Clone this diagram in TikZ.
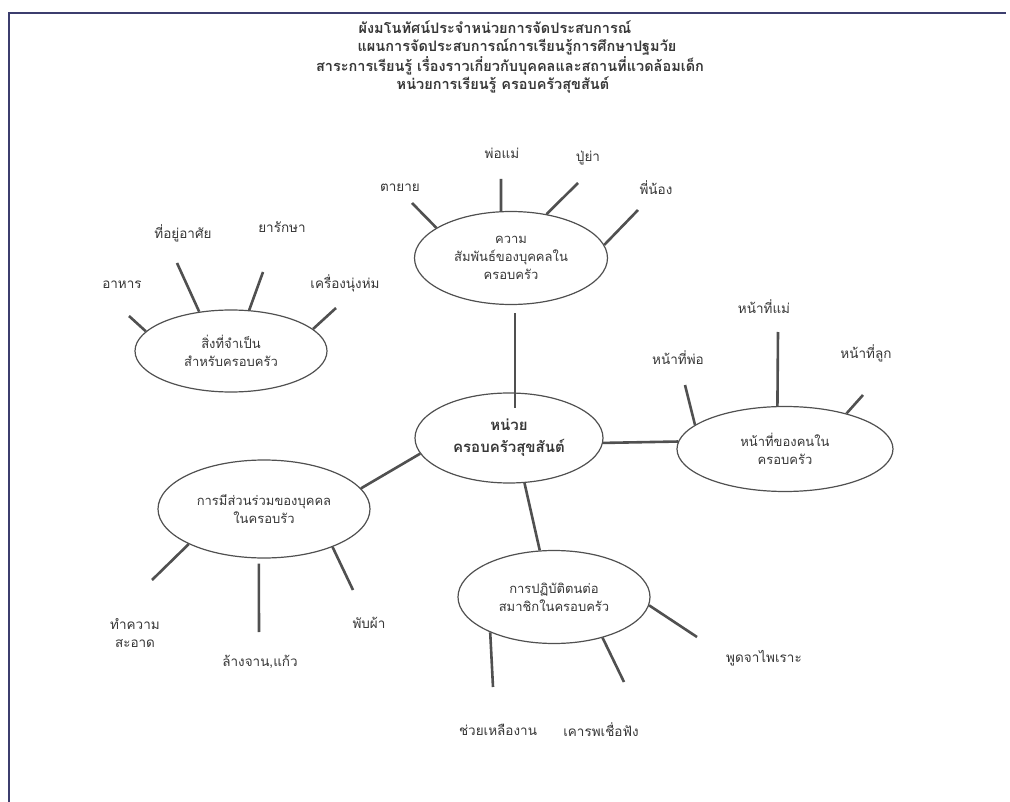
\documentclass[tikz,border=0pt]{standalone}
\usepackage{fontspec}
\newfontfamily\thaifont[Script=Thai]{Loma}
\usetikzlibrary{shapes.geometric}
\definecolor{ink}{RGB}{55,55,55}
\definecolor{linec}{RGB}{80,80,80}
\definecolor{framec}{RGB}{60,62,110}
\begin{document}
\begin{tikzpicture}[x=1pt,y=-1pt,
  font=\thaifont\fontsize{13}{18}\selectfont,
  every node/.style={text=ink},
  bubble/.style={ellipse, draw=linec, line width=1.2pt, inner sep=0pt, align=center},
  spoke/.style={draw=linec, line width=2.6pt},
  link/.style={draw=linec, line width=2.6pt},
  lbl/.style={align=center, inner sep=0pt, font=\thaifont\fontsize{13.5}{18}\selectfont},
  ttl/.style={inner sep=0pt, font=\thaifont\bfseries\fontsize{14.5}{19}\selectfont}]
\useasboundingbox (0,0) rectangle (1010,802);
\fill[white] (0,0) rectangle (1010,802);
\draw[framec, line width=1.5pt] (9,802) -- (9,13) -- (1006,13);

% title
\node[ttl] (t1) at (495,27) {ผังมโนทัศน์ประจำหน่วยการจัดประสบการณ์};
\node[ttl] (t2) at (517,47) {แผนการจัดประสบการณ์การเรียนรู้การศึกษาปฐมวัย};
\node[ttl] (t3) at (510,66) {สาระการเรียนรู้ เรื่องราวเกี่ยวกับบุคคลและสถานที่แวดล้อมเด็ก};
\node[ttl] (t4) at (503,85) {หน่วยการเรียนรู้ ครอบครัวสุขสันต์};

% ellipses
\node[bubble, minimum width=188pt, minimum height=90pt, font=\thaifont\bfseries\fontsize{15}{22}\selectfont] (c) at (509,438) {หน่วย\\ครอบครัวสุขสันต์};
\node[bubble, minimum width=193pt, minimum height=93pt] (rel) at (511,258) {ความ\\สัมพันธ์ของบุคคลใน\\ครอบครัว};
\node[bubble, minimum width=192pt, minimum height=82pt] (need) at (231,351) {สิ่งที่จำเป็น\\สำหรับครอบครัว};
\node[bubble, minimum width=216pt, minimum height=85pt] (duty) at (785,449) {หน้าที่ของคนใน\\ครอบครัว};
\node[bubble, minimum width=212pt, minimum height=98pt] (part) at (264,509) {การมีส่วนร่วมของบุคคล\\ในครอบรัว};
\node[bubble, minimum width=192pt, minimum height=93pt] (prac) at (554,597) {การปฏิบัติตนต่อ\\สมาชิกในครอบครัว};

% links from centre
\draw[link] ([xshift=4pt]rel.south) ++(0,8) -- ([xshift=6pt,yshift=-16pt]c.north);
\draw[link] (c.-3) -- (duty.176);
\draw[link] (c.-71.6) -- (prac.107);
\draw[link] (c.190.5) -- (part.12.3);

% labels
\node[lbl] (l1) at (400,188) {ตายาย};
\node[lbl] (l2) at (502,153) {พ่อแม่};
\node[lbl] (l3) at (588,158) {ปู่ย่า};
\node[lbl] (l4) at (656,188) {พี่น้อง};
\node[lbl] (l5) at (122,285) {อาหาร};
\node[lbl] (l6) at (183,233) {ที่อยู่อาศัย};
\node[lbl] (l7) at (282,227) {ยารักษา};
\node[lbl] (l8) at (345,283) {เครื่องนุ่งห่ม};
\node[lbl] (l9) at (678,358) {หน้าที่พ่อ};
\node[lbl] (l10) at (764,307) {หน้าที่แม่};
\node[lbl] (l11) at (866,353) {หน้าที่ลูก};
\node[lbl] (l12) at (135,633) {ทำความ\\สะอาด};
\node[lbl] (l13) at (260,662) {ล้างจาน,แก้ว};
\node[lbl] (l14) at (369,623) {พับผ้า};
\node[lbl] (l15) at (498,730) {ช่วยเหลืองาน};
\node[lbl] (l16) at (601,730) {เคารพเชื่อฟัง};
\node[lbl] (l17) at (764,658) {พูดจาไพเราะ};

% spoke ends
\coordinate (s1) at (412,203);
\coordinate (s2) at (501,179);
\coordinate (s3) at (578,183);
\coordinate (s4) at (638,210);
\coordinate (s5) at (129,316);
\coordinate (s6) at (177,263);
\coordinate (s7) at (263,272);
\coordinate (s8) at (336,308);
\coordinate (s9) at (685,385);
\coordinate (s10) at (778,332);
\coordinate (s11) at (863,395);
\coordinate (s12) at (152,580);
\coordinate (s13) at (259,632);
\coordinate (s14) at (353,590);
\coordinate (s15) at (493,687);
\coordinate (s16) at (624,682);
\coordinate (s17) at (697,637);

\draw[spoke] (rel.158.6) -- (s1);
\draw[spoke] (rel.102) -- (s2);
\draw[spoke] (rel.51) -- (s3);
\draw[spoke] (rel.8) -- (s4);
\draw[spoke] (need.167.5) -- (s5);
\draw[spoke] (need.129.7) -- (s6);
\draw[spoke] (need.66.6) -- (s7);
\draw[spoke] (need.15.4) -- (s8);
\draw[spoke] (duty.165) -- (s9);
\draw[spoke] (duty.100.7) -- (s10);
\draw[spoke] (duty.30.8) -- (s11);
\draw[spoke] (part.205.4) -- (s12);
\draw[spoke, shorten <=5pt] (part.264.7) -- (s13);
\draw[spoke] (part.331.8) -- (s14);
\draw[spoke] (prac.209.8) -- (s15);
\draw[spoke] (prac.320) -- (s16);
\draw[spoke] (prac.355) -- (s17);
\end{tikzpicture}
\end{document}
